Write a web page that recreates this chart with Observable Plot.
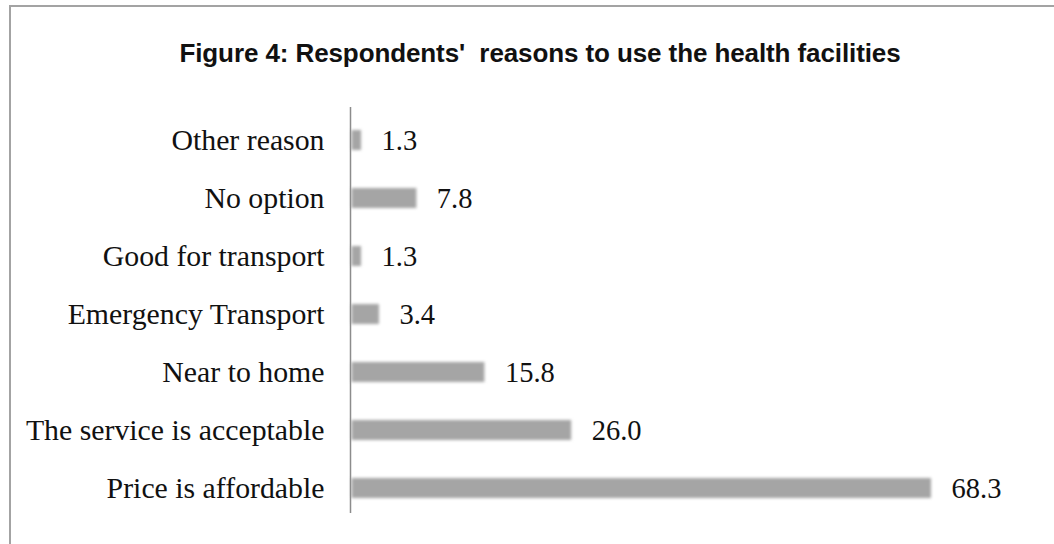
<!DOCTYPE html>
<html>
<head>
<meta charset="utf-8">
<script src="https://cdn.jsdelivr.net/npm/d3@7"></script>
<script src="https://cdn.jsdelivr.net/npm/@observablehq/plot@0.6"></script>
<style>
  html, body { margin: 0; padding: 0; background: #fff; }
  body { width: 1054px; height: 544px; overflow: hidden; position: relative; }
  #frame {
    position: absolute; left: 9px; top: 5px;
    width: 1100px; height: 600px;
    border: 2px solid #a3a3a3; box-sizing: border-box;
  }
  #title {
    position: relative; width: 1080px; height: 95px;
    box-sizing: border-box; padding-top: 40px;
    text-align: center; white-space: pre;
    font-family: "Liberation Sans", Arial, sans-serif;
    font-weight: bold; font-size: 26px; line-height: 26px;
    letter-spacing: -0.1px; color: #111;
  }
  #chart { position: relative; }
  #chart g[aria-label="bar"] { filter: blur(1.6px); }
</style>
</head>
<body>
<div id="frame"></div>
<div id="title">Figure 4: Respondents'  reasons to use the health facilities</div>
<div id="chart"></div>
<script>
// Reasons given for using the health facilities (% of respondents)
const reasons = [
  "Other reason",
  "No option",
  "Good for transport",
  "Emergency Transport",
  "Near to home",
  "The service is acceptable",
  "Price is affordable"
];
const percents = [1.3, 7.8, 1.3, 3.4, 15.8, 26.0, 68.3];

const rows = reasons.map((reason, i) => ({reason, value: percents[i]}));

const chart = Plot.plot({
  width: 1054,
  height: 449,
  marginLeft: 350,
  marginRight: 123,
  marginTop: 35,
  marginBottom: 45,
  style: {
    fontFamily: "'Liberation Serif', 'Times New Roman', serif",
    fontSize: "28.5px",
    color: "#111",
    background: "transparent",
    overflow: "visible"
  },
  x: {domain: [0, 68.3], axis: null},
  y: {domain: reasons, paddingInner: 0.65, paddingOuter: 0, label: null},
  marks: [
    Plot.barX(rows, {x: "value", y: "reason", fill: "#a5a5a5", insetLeft: 1.5}),
    Plot.ruleX([0], {stroke: "#8c8c8c", strokeWidth: 1.5, insetTop: -23, insetBottom: -14}),
    Plot.text(rows, {
      x: "value", y: "reason",
      text: d => d.value.toFixed(1),
      textAnchor: "start", dx: 20, fill: "#111"
    }),
    Plot.axisY({tickSize: 0, tickPadding: 26, fill: "#111", fontSize: 29.8})
  ]
});

// soften the bar edges
const barGroup = chart.querySelector('g[aria-label="bar"]');
if (barGroup) barGroup.setAttribute("style", "filter: blur(1.6px)");

document.getElementById("chart").appendChild(chart);
</script>
</body>
</html>
